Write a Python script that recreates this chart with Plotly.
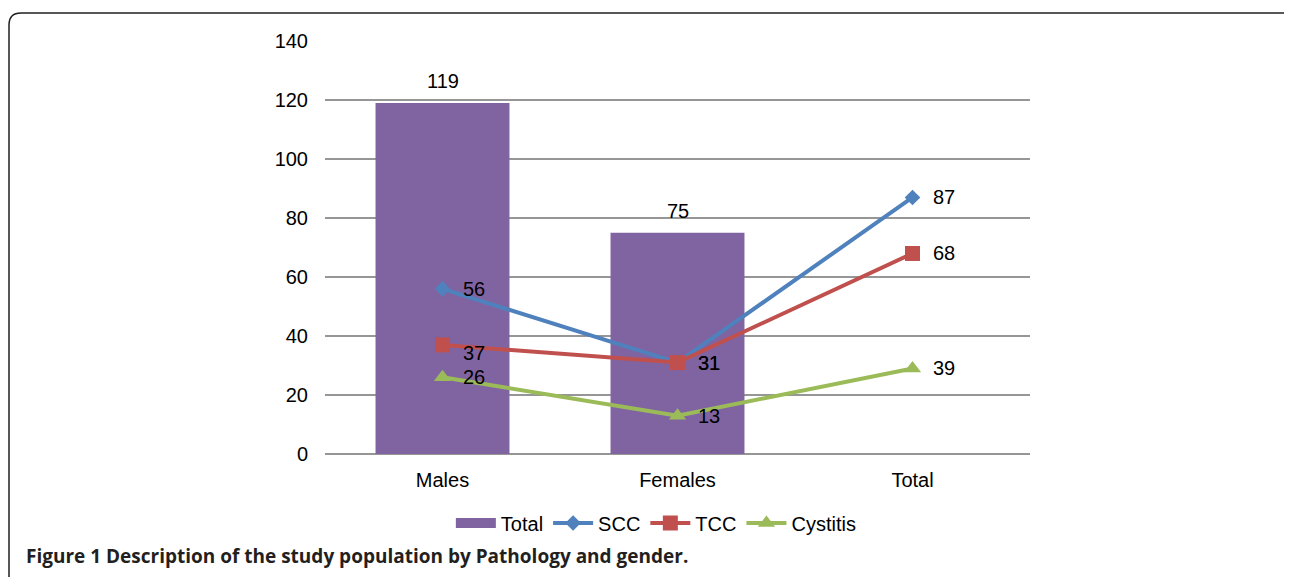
import plotly.graph_objects as go

categories = ["Males", "Females", "Total"]
total_bar = [119, 75]          # bar values (Males, Females)
scc = [56, 31, 87]
tcc = [37, 31, 68]
cystitis = [26, 13, 29]        # plotted positions as drawn
scc_labels = ["56", "31", "87"]
tcc_labels = ["37", "31", "68"]
cystitis_labels = ["26", "13", "39"]
y_ticks = [0, 20, 40, 60, 80, 100, 120, 140]
caption = "<b>Figure 1 Description of the study population by Pathology and gender.</b>"

OFF = 8  # page body margin
W, H = 1292 - OFF, 577 - OFF
L, R, T, B = 325 - OFF, 1030 - OFF, 41 - OFF, 454 - OFF
PW, PH = R - L, B - T

def px(x):
    return (x - OFF - L) / PW

def py(y):
    return (B - (y - OFF)) / PH

FONT = "Liberation Sans, Arial, sans-serif"
FS = 20
PURPLE = "#8064A2"
BLUE = "#4F81BD"
RED = "#C0504D"
GREEN = "#9BBB59"

fig = go.Figure()
fig.add_trace(go.Bar(x=categories[:2], y=total_bar, name="Total", showlegend=False,
                     marker=dict(color=PURPLE, line=dict(width=0))))
# legend swatch for the bar series (wide rectangle, as in the original)
fig.add_trace(go.Scatter(x=[None], y=[None], name="Total", mode="lines",
                         line=dict(color=PURPLE, width=12), hoverinfo="skip"))
series = [
    ("SCC", scc, scc_labels, BLUE, "diamond", 12),
    ("TCC", tcc, tcc_labels, RED, "square", 15),
    ("Cystitis", cystitis, cystitis_labels, GREEN, "triangle-up", 15),
]
for name, vals, labs, col, sym, sz in series:
    fig.add_trace(go.Scatter(x=categories, y=vals, name=name, mode="lines+markers",
                             line=dict(color=col, width=4),
                             marker=dict(symbol=sym, size=sz, color=col)))

annotations = []
for c, v in zip(categories, total_bar):
    annotations.append(dict(x=c, y=v, text=str(v), showarrow=False, yshift=22,
                            font=dict(family=FONT, size=FS, color="black")))
for name, vals, labs, col, sym, sz in series:
    for c, v, t in zip(categories, vals, labs):
        ys = -8 if (name == "TCC" and c == "Males") else 0
        annotations.append(dict(x=c, y=v, text=t, showarrow=False, xanchor="left",
                                xshift=18, yshift=ys,
                                font=dict(family=FONT, size=FS, color="black")))
annotations.append(dict(xref="paper", yref="paper", x=px(24), y=py(556), text=caption,
                        showarrow=False, xanchor="left", yanchor="middle",
                        font=dict(family="Open Sans, sans-serif", size=19, color="#231f20")))

border = (f"M {px(9)} {py(620)} L {px(9)} {py(25)} Q {px(9)} {py(13)} {px(21)} {py(13)} "
          f"L {px(1283)} {py(13)} Q {px(1295)} {py(13)} {px(1295)} {py(25)} L {px(1295)} {py(620)}")

fig.update_layout(
    width=W, height=H,
    margin=dict(l=L, r=W - R, t=T, b=H - B),
    paper_bgcolor="white", plot_bgcolor="white",
    font=dict(family=FONT, size=FS, color="black"),
    bargap=0.43,
    showlegend=True,
    legend=dict(orientation="h", x=0.47, xanchor="center", y=py(523), yanchor="middle",
                font=dict(family=FONT, size=FS, color="black"), itemwidth=40,
                tracegroupgap=0),
    annotations=annotations,
    shapes=[dict(type="path", xref="paper", yref="paper", path=border,
                 line=dict(color="#231f20", width=1.5))],
    xaxis=dict(range=[-0.5, 2.5], showgrid=False, showline=False, zeroline=False, ticks="",
               ticklabelstandoff=12, tickfont=dict(size=FS)),
    yaxis=dict(range=[0, 140.05], tickvals=y_ticks, showgrid=True, gridcolor="#969696",
               gridwidth=1.5, zeroline=True, zerolinecolor="#969696", zerolinewidth=1.5,
               showline=False, ticks="", ticklabelstandoff=16, tickfont=dict(size=FS)),
)

fig.write_html("out.html")
